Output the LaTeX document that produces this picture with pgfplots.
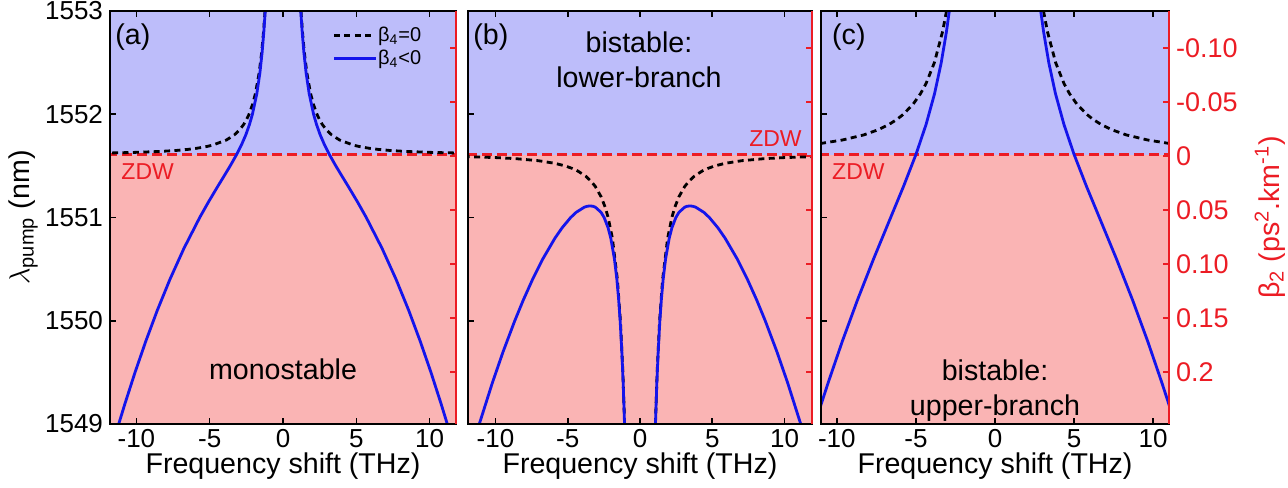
\documentclass[border=0pt]{standalone}
\usepackage{fontspec}
\setmainfont{Liberation Sans}
\usepackage{pgfplots}
\pgfplotsset{compat=1.18}
\definecolor{bgblue}{RGB}{189,189,250}
\definecolor{bgpink}{RGB}{250,180,180}
\definecolor{zdwred}{RGB}{236,28,36}
\definecolor{curveblue}{RGB}{20,20,235}

\pgfplotsset{
  base/.style={scale only axis, height=206.5pt, ymin=1549, ymax=1553,
    font=\fontsize{14.3}{17}\selectfont,
    ticklabel style={font=\fontsize{13}{15}\selectfont},
    xticklabel style={inner sep=0pt, yshift=-2.5pt},
    tick align=inside, major tick length=3pt,
    axis line style={line width=1pt}, tick style={black,line width=0.8pt},
    xtick={-10,-5,0,5,10}, xticklabels={-10,-5,0,5,10}, xtick pos=both,
    ytick={1549,1550,1551,1552,1553}, ytick pos=left,
    xlabel={Frequency shift (THz)},
    xlabel style={at={(axis description cs:0.5,-0.103)},anchor=center, inner sep=0pt},
    axis on top, clip=true},
  sec/.style={scale only axis, height=206.5pt, axis x line=none, axis y line*=right,
    xmin=0, xmax=1, ymin=-0.134, ymax=0.2484, y dir=reverse,
    ytick={-0.1,-0.05,0,0.05,0.1,0.15,0.2},
    tick align=inside, major tick length=3pt,
    y axis line style={zdwred,line width=1.3pt},
    ytick style={zdwred,line width=0.8pt},
    font=\fontsize{14.3}{17}\selectfont,
    ticklabel style={font=\fontsize{13.5}{16}\selectfont},
    yticklabel style={zdwred}},
  bl/.style={curveblue, line width=1.4pt},
  bk/.style={black, line width=1.4pt, dash pattern=on 3pt off 2.2pt},
  zd/.style={zdwred, line width=1.1pt, dash pattern=on 5pt off 2.5pt},
}

\begin{document}
\begin{tikzpicture}
\useasboundingbox (0,0) rectangle (644pt,243.5pt);

% ---------------- (a) ----------------
\begin{axis}[base, at={(55pt,31.5pt)}, anchor=south west, width=173pt,
  xmin=-11.8, xmax=11.8,
  yticklabels={1549,1550,1551,1552,1553},
  ylabel={$\lambda$\textsubscript{pump} (nm)},
  ylabel style={at={(axis description cs:-0.251,0.5)},anchor=center, inner sep=0pt},
  legend style={at={(axis description cs:0.625,0.975)}, anchor=north west, draw=none, fill=none,
    font=\fontsize{10}{12}\selectfont, nodes={inner sep=0.6pt}, row sep=1.5pt},
  legend cell align=left,
  legend image code/.code={\draw[#1] (0cm,0cm) -- (0.73cm,0cm);}]
\addplot[fill=bgblue, draw=none, forget plot] coordinates {(-13,1551.61) (13,1551.61) (13,1554) (-13,1554)} --cycle;
\addplot[fill=bgpink, draw=none, forget plot] coordinates {(-13,1548) (13,1548) (13,1551.61) (-13,1551.61)} --cycle;
\addplot[zd, forget plot] coordinates {(-13,1551.61) (13,1551.61)};
% dashed beta4=0
\addplot[bk, forget plot] table {
1.227 1553
1.326 1552.8
1.454 1552.6
1.627 1552.4
1.883 1552.2
2.066 1552.1
2.316 1552.0
2.481 1551.95
2.686 1551.9
2.953 1551.85
3.319 1551.8
3.866 1551.75
4.822 1551.7
5.281 1551.685
5.905 1551.67
6.468 1551.66
7.232 1551.65
8.35 1551.64
10.23 1551.63
11.81 1551.625
13.2 1551.622
};
\addplot[bk, forget plot] table {
-1.227 1553
-1.326 1552.8
-1.454 1552.6
-1.627 1552.4
-1.883 1552.2
-2.066 1552.1
-2.316 1552.0
-2.481 1551.95
-2.686 1551.9
-2.953 1551.85
-3.319 1551.8
-3.866 1551.75
-4.822 1551.7
-5.281 1551.685
-5.905 1551.67
-6.468 1551.66
-7.232 1551.65
-8.35 1551.64
-10.23 1551.63
-11.81 1551.625
-13.2 1551.622
};
% solid beta4<0
\addplot[bl, forget plot] table {
1.212 1553
1.307 1552.8
1.424 1552.6
1.576 1552.4
1.785 1552.2
2.086 1552.0
2.289 1551.9
2.538 1551.8
2.843 1551.7
3.162 1551.61
3.601 1551.5
4.026 1551.4
4.456 1551.3
5.085 1551.15
5.680 1551.0
6.760 1550.7
7.715 1550.4
8.576 1550.1
9.363 1549.8
10.092 1549.5
10.773 1549.2
11.205 1549.0
11.42 1548.9
};
\addplot[bl, forget plot] table {
-1.212 1553
-1.307 1552.8
-1.424 1552.6
-1.576 1552.4
-1.785 1552.2
-2.086 1552.0
-2.289 1551.9
-2.538 1551.8
-2.843 1551.7
-3.162 1551.61
-3.601 1551.5
-4.026 1551.4
-4.456 1551.3
-5.085 1551.15
-5.680 1551.0
-6.760 1550.7
-7.715 1550.4
-8.576 1550.1
-9.363 1549.8
-10.092 1549.5
-10.773 1549.2
-11.205 1549.0
-11.42 1548.9
};
\addlegendimage{bk}
\addlegendentry{β\textsubscript{4}=0}
\addlegendimage{bl}
\addlegendentry{β\textsubscript{4}<0}
\node[anchor=west, inner sep=0pt] at (axis description cs:0.0145,0.937) {(a)};
\node[anchor=north west, inner sep=0pt, text=zdwred, font=\fontsize{11.5}{13}\selectfont] at (axis description cs:0.032,0.632) {ZDW};
\node[anchor=center, inner sep=0pt] at (axis description cs:0.5,0.133) {monostable};
\end{axis}
\begin{axis}[sec, at={(55pt,31.5pt)}, anchor=south west, width=173pt, yticklabels={}]
\end{axis}

% ---------------- (b) ----------------
\begin{axis}[base, at={(234pt,31.5pt)}, anchor=south west, width=172pt,
  xmin=-11.9, xmax=11.9, yticklabels={}]
\addplot[fill=bgblue, draw=none] coordinates {(-13,1551.61) (13,1551.61) (13,1554) (-13,1554)} --cycle;
\addplot[fill=bgpink, draw=none] coordinates {(-13,1548) (13,1548) (13,1551.61) (-13,1551.61)} --cycle;
\addplot[zd] coordinates {(-13,1551.61) (13,1551.61)};
\addplot[bk] table {
1.046 1548.9
1.065 1549.0
1.185 1549.5
1.356 1550.0
1.565 1550.4
1.912 1550.8
2.204 1551.0
2.410 1551.1
2.688 1551.2
3.091 1551.3
3.375 1551.35
3.756 1551.4
4.303 1551.45
4.684 1551.475
5.189 1551.5
5.903 1551.525
7.027 1551.55
8.606 1551.57
9.937 1551.58
12.17 1551.59
};
\addplot[bk] table {
-1.046 1548.9
-1.065 1549.0
-1.185 1549.5
-1.356 1550.0
-1.565 1550.4
-1.912 1550.8
-2.204 1551.0
-2.410 1551.1
-2.688 1551.2
-3.091 1551.3
-3.375 1551.35
-3.756 1551.4
-4.303 1551.45
-4.684 1551.475
-5.189 1551.5
-5.903 1551.525
-7.027 1551.55
-8.606 1551.57
-9.937 1551.58
-12.17 1551.59
};
\addplot[bl] table {
1.051 1548.9
1.070 1549.0
1.165 1549.4
1.257 1549.7
1.373 1550.0
1.474 1550.2
1.600 1550.4
1.771 1550.6
2.022 1550.8
2.207 1550.9
2.481 1551.0
2.694 1551.05
3.090 1551.1
3.25 1551.1086
3.45 1551.1121
3.65 1551.1089
3.851 1551.1
4.417 1551.05
4.796 1551.0
5.391 1550.9
5.885 1550.8
6.719 1550.6
7.435 1550.4
8.076 1550.2
8.664 1550.0
9.472 1549.7
10.212 1549.4
11.118 1549.0
11.33 1548.9
};
\addplot[bl] table {
-1.051 1548.9
-1.070 1549.0
-1.165 1549.4
-1.257 1549.7
-1.373 1550.0
-1.474 1550.2
-1.600 1550.4
-1.771 1550.6
-2.022 1550.8
-2.207 1550.9
-2.481 1551.0
-2.694 1551.05
-3.090 1551.1
-3.25 1551.1086
-3.45 1551.1121
-3.65 1551.1089
-3.851 1551.1
-4.417 1551.05
-4.796 1551.0
-5.391 1550.9
-5.885 1550.8
-6.719 1550.6
-7.435 1550.4
-8.076 1550.2
-8.664 1550.0
-9.472 1549.7
-10.212 1549.4
-11.118 1549.0
-11.33 1548.9
};
\node[anchor=west, inner sep=0pt] at (axis description cs:0.0145,0.937) {(b)};
\node[anchor=south east, inner sep=0pt, text=zdwred, font=\fontsize{11.5}{13}\selectfont] at (axis description cs:0.971,0.6704) {ZDW};
\node[anchor=base, inner sep=0pt] at (axis description cs:0.497,0.9007) {bistable:};
\node[anchor=base, inner sep=0pt] at (axis description cs:0.497,0.8136) {lower-branch};
\end{axis}
\begin{axis}[sec, at={(234pt,31.5pt)}, anchor=south west, width=172pt, yticklabels={}]
\end{axis}

% ---------------- (c) ----------------
\begin{axis}[base, at={(410.5pt,31.5pt)}, anchor=south west, width=174pt,
  xmin=-11, xmax=11, yticklabels={}]
\addplot[fill=bgblue, draw=none] coordinates {(-13,1551.61) (13,1551.61) (13,1554) (-13,1554)} --cycle;
\addplot[fill=bgpink, draw=none] coordinates {(-13,1548) (13,1548) (13,1551.61) (-13,1551.61)} --cycle;
\addplot[zd] coordinates {(-13,1551.61) (13,1551.61)};
\addplot[bk] table {
3.067 1553
3.315 1552.8
3.833 1552.5
4.353 1552.3
4.708 1552.2
5.166 1552.1
5.791 1552.0
6.202 1551.95
6.715 1551.9
7.382 1551.85
8.297 1551.8
9.664 1551.75
10.90 1551.72
11.16 1551.715
};
\addplot[bk] table {
-3.067 1553
-3.315 1552.8
-3.833 1552.5
-4.353 1552.3
-4.708 1552.2
-5.166 1552.1
-5.791 1552.0
-6.202 1551.95
-6.715 1551.9
-7.382 1551.85
-8.297 1551.8
-9.664 1551.75
-10.90 1551.72
-11.16 1551.715
};
\addplot[bl] table {
2.890 1553
3.070 1552.8
3.399 1552.5
3.821 1552.2
4.360 1551.9
5.0 1551.61
5.787 1551.3
6.597 1551.0
7.674 1550.6
8.698 1550.2
9.655 1549.8
10.548 1549.4
10.972 1549.2
11.383 1549.0
};
\addplot[bl] table {
-2.890 1553
-3.070 1552.8
-3.399 1552.5
-3.821 1552.2
-4.360 1551.9
-5.0 1551.61
-5.787 1551.3
-6.597 1551.0
-7.674 1550.6
-8.698 1550.2
-9.655 1549.8
-10.548 1549.4
-10.972 1549.2
-11.383 1549.0
};
\node[anchor=west, inner sep=0pt] at (axis description cs:0.031,0.937) {(c)};
\node[anchor=north west, inner sep=0pt, text=zdwred, font=\fontsize{11.5}{13}\selectfont] at (axis description cs:0.031,0.632) {ZDW};
\node[anchor=base, inner sep=0pt] at (axis description cs:0.5,0.1065) {bistable:};
\node[anchor=base, inner sep=0pt] at (axis description cs:0.5,0.021) {upper-branch};
\end{axis}
\begin{axis}[sec, at={(410.5pt,31.5pt)}, anchor=south west, width=174pt,
  yticklabels={-0.10,-0.05,0,0.05,0.10,0.15,0.2},
  ylabel={β\textsubscript{2} (ps\textsuperscript{2}.km\textsuperscript{-1})},
  ylabel style={zdwred, at={(axis description cs:1.29,0.5)}, anchor=center, rotate=0, inner sep=0pt}]
\end{axis}
\end{tikzpicture}
\end{document}
